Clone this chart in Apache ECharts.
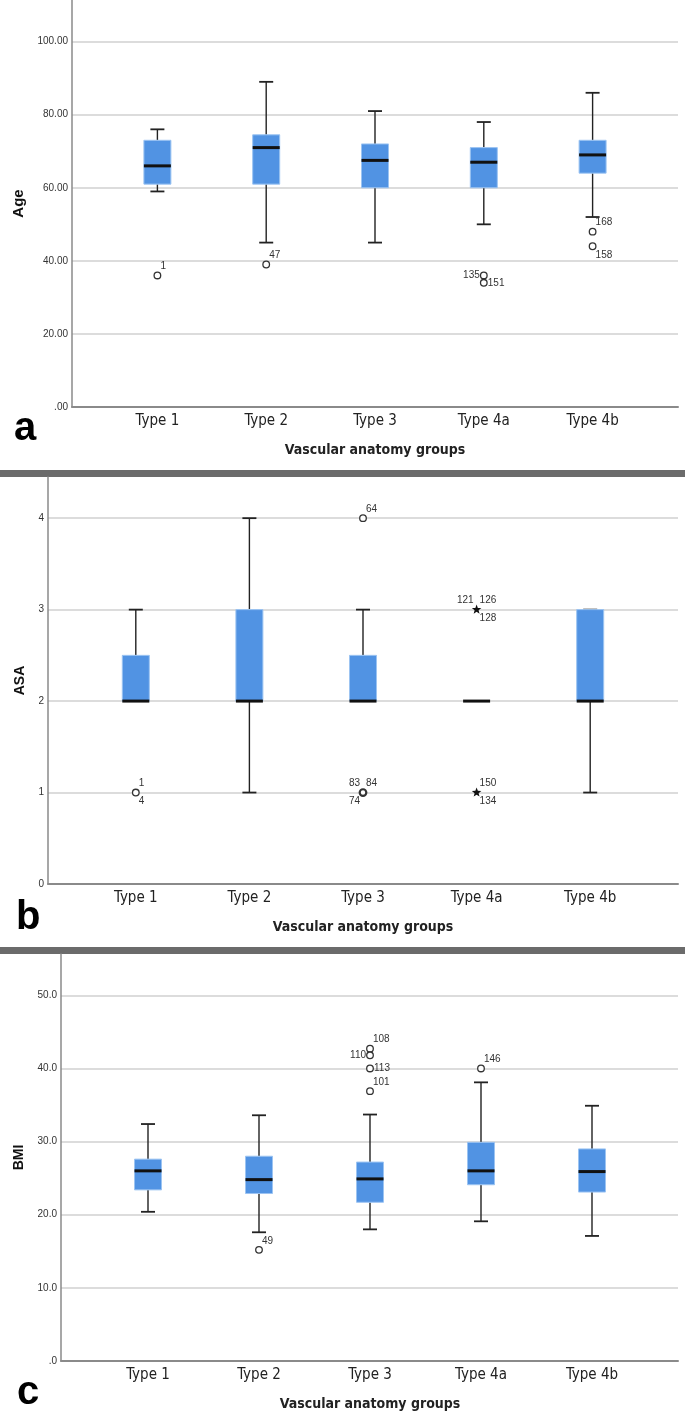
<!DOCTYPE html>
<html><head><meta charset="utf-8">
<script src="https://cdn.jsdelivr.net/npm/echarts@6/dist/echarts.min.js"></script>
<style>html,body{margin:0;padding:0;background:#fff}#c{width:685px;height:1425px}</style>
</head><body><div id="c"></div>
<script>
// ---------------- DATA ----------------
const categories = ['Type 1', 'Type 2', 'Type 3', 'Type 4a', 'Type 4b'];
const xTitle = 'Vascular anatomy groups';

// box rows: [lower whisker, Q1, median, Q3, upper whisker]
const ageBoxes = [[59, 61, 66, 73, 76], [45, 61, 71, 74.5, 89], [45, 60, 67.5, 72, 81], [50, 60, 67, 71, 78], [52, 64, 69, 73, 86]];
// outliers: [category index, value, marker ('o' outlier / '*' extreme), case labels]
const ageOutliers = [[0, 36, 'o', ['1']], [1, 39, 'o', ['47']], [3, 36, 'o', ['135']], [3, 34, 'o', ['151']], [4, 48, 'o', ['168']], [4, 44, 'o', ['158']]];
const ageTicks = [0, 20, 40, 60, 80, 100];
const ageTickLabels = ['.00', '20.00', '40.00', '60.00', '80.00', '100.00'];

const asaBoxes = [[2, 2, 2, 2.5, 3], [1, 2, 2, 3, 4], [2, 2, 2, 2.5, 3], [2, 2, 2, 2, 2], [1, 2, 2, 3, 3]];
const asaOutliers = [[0, 1, 'o', ['1', '4']], [2, 4, 'o', ['64']], [2, 1, 'o', ['83', '84', '74']], [3, 3, '*', ['121', '126', '128']], [3, 1, '*', ['150', '134']]];
const asaTicks = [0, 1, 2, 3, 4];
const asaTickLabels = ['0', '1', '2', '3', '4'];

const bmiBoxes = [[20.4, 23.4, 26.0, 27.6, 32.4], [17.6, 22.9, 24.8, 28.0, 33.6], [18.0, 21.7, 24.9, 27.2, 33.7], [19.1, 24.1, 26.0, 29.9, 38.1], [17.1, 23.1, 25.9, 29.0, 34.9]];
const bmiOutliers = [[1, 15.2, 'o', ['49']], [2, 42.7, 'o', ['108']], [2, 41.8, 'o', ['110']], [2, 40.0, 'o', ['113']], [2, 36.9, 'o', ['101']], [3, 40.0, 'o', ['146']]];
const bmiTicks = [0, 10, 20, 30, 40, 50];
const bmiTickLabels = ['.0', '10.0', '20.0', '30.0', '40.0', '50.0'];

// ---------------- STYLE / LAYOUT ----------------
const NARROW = "'Liberation Sans Narrow','DejaVu Sans Condensed','Liberation Sans',sans-serif";
const SANS = "'Liberation Sans',Arial,sans-serif";
const BOX_FILL = '#5193e3', BOX_EDGE = '#9cc4f2';
const BOX_W = 27, CAP_W = 14;
const PLACE = {
  tr: {dx: 3, dy: -4, align: 'left', va: 'bottom'},
  br: {dx: 3, dy: 4, align: 'left', va: 'top'},
  tl: {dx: -3, dy: -4, align: 'right', va: 'bottom'},
  bl: {dx: -3, dy: 4, align: 'right', va: 'top'},
  l: {dx: -4, dy: 0, align: 'right', va: 'middle'},
  r: {dx: 4, dy: 0, align: 'left', va: 'middle'}
};
const panels = [
  {name: 'Age', boxes: ageBoxes, outliers: ageOutliers, ticks: ageTicks, tickLabels: ageTickLabels,
   frameLeft: 72, dataLeft: 103, dataWidth: 544, top: 0, max: 111.4, nameGap: 44, nameSize: 15,
   place: {'1': 'tr', '47': 'tr', '135': 'l', '151': 'r', '168': 'tr', '158': 'br'}},
  {name: 'ASA', boxes: asaBoxes, outliers: asaOutliers, ticks: asaTicks, tickLabels: asaTickLabels,
   frameLeft: 48, dataLeft: 79, dataWidth: 568, top: 477, max: 4.45, nameGap: 21, nameSize: 14,
   place: {'1': 'tr', '4': 'br', '64': 'tr', '83': 'tl', '84': 'tr', '74': 'bl', '121': 'tl', '126': 'tr', '128': 'br', '150': 'tr', '134': 'br'}},
  {name: 'BMI', boxes: bmiBoxes, outliers: bmiOutliers, ticks: bmiTicks, tickLabels: bmiTickLabels,
   frameLeft: 61, dataLeft: 92.5, dataWidth: 555, top: 954, max: 55.65, nameGap: 34, nameSize: 14,
   place: {'49': 'tr', '108': 'tr', '110': 'l', '113': 'r', '101': 'tr', '146': 'tr'}}
];
const GRID_H = 407;

function starPoints(cx, cy, R, r) {
  const pts = [];
  for (let k = 0; k < 10; k++) {
    const ang = -Math.PI / 2 + k * Math.PI / 5;
    const rad = k % 2 === 0 ? R : r;
    pts.push([cx + rad * Math.cos(ang), cy + rad * Math.sin(ang)]);
  }
  return pts;
}

function boxRender(params, api) {
  const x = api.value(0);
  const lo = api.coord([x, api.value(1)]);
  const q1 = api.coord([x, api.value(2)]);
  const md = api.coord([x, api.value(3)]);
  const q3 = api.coord([x, api.value(4)]);
  const hi = api.coord([x, api.value(5)]);
  const cx = lo[0];
  const ln = (x1, y1, x2, y2, w, c) => ({type: 'line', shape: {x1, y1, x2, y2}, style: {stroke: c, lineWidth: w}});
  const ch = [];
  ch.push(ln(cx, lo[1], cx, q1[1], 1.4, '#222'));
  ch.push(ln(cx, q3[1], cx, hi[1], 1.4, '#222'));
  ch.push(ln(cx - CAP_W / 2, lo[1], cx + CAP_W / 2, lo[1], 1.8, '#222'));
  ch.push(ln(cx - CAP_W / 2, hi[1], cx + CAP_W / 2, hi[1], 1.8, '#222'));
  if (Math.abs(q1[1] - q3[1]) > 0.5) {
    ch.push({type: 'rect', shape: {x: cx - BOX_W / 2, y: q3[1], width: BOX_W, height: q1[1] - q3[1]},
      style: {fill: BOX_FILL, stroke: BOX_EDGE, lineWidth: 1}});
  }
  ch.push(ln(cx - BOX_W / 2, md[1], cx + BOX_W / 2, md[1], 3, '#111'));
  return {type: 'group', children: ch};
}

function outlierRender(panel) {
  return function (params, api) {
    const o = panel.outliers[params.dataIndex];
    const p = api.coord([api.value(0), api.value(1)]);
    const ch = [];
    if (o[2] === 'o') {
      ch.push({type: 'circle', shape: {cx: p[0], cy: p[1], r: 3.3},
        style: {fill: '#fff', stroke: '#333', lineWidth: o[3].length > 2 ? 2.2 : 1.3}});
    } else {
      ch.push({type: 'polygon', shape: {points: starPoints(p[0], p[1], 5, 2.1)}, style: {fill: '#111'}});
    }
    o[3].forEach(lbl => {
      const pl = PLACE[panel.place[lbl] || 'tr'];
      ch.push({type: 'text', x: p[0] + pl.dx, y: p[1] + pl.dy,
        style: {text: lbl, align: pl.align, verticalAlign: pl.va, fill: '#333', font: '10px ' + SANS}});
    });
    return {type: 'group', children: ch};
  };
}

const grid = [], xAxis = [], yAxis = [], series = [];
panels.forEach((p, i) => {
  const fi = 2 * i, di = 2 * i + 1;
  const interval = p.ticks[1] - p.ticks[0];
  grid.push({left: p.frameLeft, right: 7, top: p.top, height: GRID_H, outerBoundsMode: 'none', containLabel: false});
  grid.push({left: p.dataLeft, width: p.dataWidth, top: p.top, height: GRID_H, outerBoundsMode: 'none', containLabel: false});
  xAxis.push({gridIndex: fi, type: 'value', min: 0, max: 1,
    axisLine: {show: true, onZero: false, lineStyle: {color: '#8a8a8a', width: 2}},
    axisTick: {show: false}, axisLabel: {show: false}, splitLine: {show: false}});
  yAxis.push({gridIndex: fi, type: 'value', min: 0, max: p.max, interval: interval,
    axisLine: {show: true, onZero: false, lineStyle: {color: '#8a8a8a', width: 1.5}},
    axisTick: {show: false},
    axisLabel: {show: true, margin: 4, fontSize: 10, fontFamily: SANS, color: '#333', showMaxLabel: false,
      formatter: v => { const k = p.ticks.indexOf(v); return k >= 0 ? p.tickLabels[k] : ''; }},
    splitLine: {show: true, showMaxLine: false,
      lineStyle: {color: p.ticks.map(() => '#d0d0d0').concat(['rgba(0,0,0,0)']), width: 1.5}},
    name: p.name, nameLocation: 'middle', nameGap: p.nameGap,
    nameTextStyle: {fontWeight: 'bold', fontSize: p.nameSize, fontFamily: SANS, color: '#111'}});
  xAxis.push({gridIndex: di, type: 'category', data: categories, boundaryGap: true,
    axisLine: {show: false}, axisTick: {show: false}, splitLine: {show: false},
    axisLabel: {margin: 7, fontSize: 15, fontFamily: NARROW, color: '#222'},
    name: xTitle, nameLocation: 'middle', nameGap: 36,
    nameTextStyle: {fontSize: 14, fontWeight: 'bold', fontFamily: NARROW, color: '#222'}});
  yAxis.push({gridIndex: di, type: 'value', min: 0, max: p.max, show: false});
  series.push({type: 'custom', xAxisIndex: di, yAxisIndex: di, renderItem: boxRender,
    data: p.boxes.map((b, k) => [k].concat(b)), encode: {x: 0, y: [1, 2, 3, 4, 5]}, z: 3});
  series.push({type: 'custom', xAxisIndex: di, yAxisIndex: di, renderItem: outlierRender(p),
    data: p.outliers.map(o => [o[0], o[1]]), encode: {x: 0, y: 1}, z: 4});
});

const letterFont = 'bold 40px ' + SANS;
const option = {
  animation: false,
  backgroundColor: '#fff',
  grid, xAxis, yAxis, series,
  graphic: [
    {type: 'rect', shape: {x: 0, y: 470, width: 685, height: 7}, style: {fill: '#6b6b6b'}, silent: true},
    {type: 'rect', shape: {x: 0, y: 947, width: 685, height: 7}, style: {fill: '#6b6b6b'}, silent: true},
    {type: 'text', x: 14, y: 429, style: {text: 'a', font: letterFont, fill: '#000', verticalAlign: 'middle'}},
    {type: 'text', x: 16, y: 918, style: {text: 'b', font: letterFont, fill: '#000', verticalAlign: 'middle'}},
    {type: 'text', x: 17, y: 1393, style: {text: 'c', font: letterFont, fill: '#000', verticalAlign: 'middle'}}
  ]
};
const chart = echarts.init(document.getElementById('c'), null, {renderer: 'canvas'});
chart.setOption(option);
</script>
</body></html>
